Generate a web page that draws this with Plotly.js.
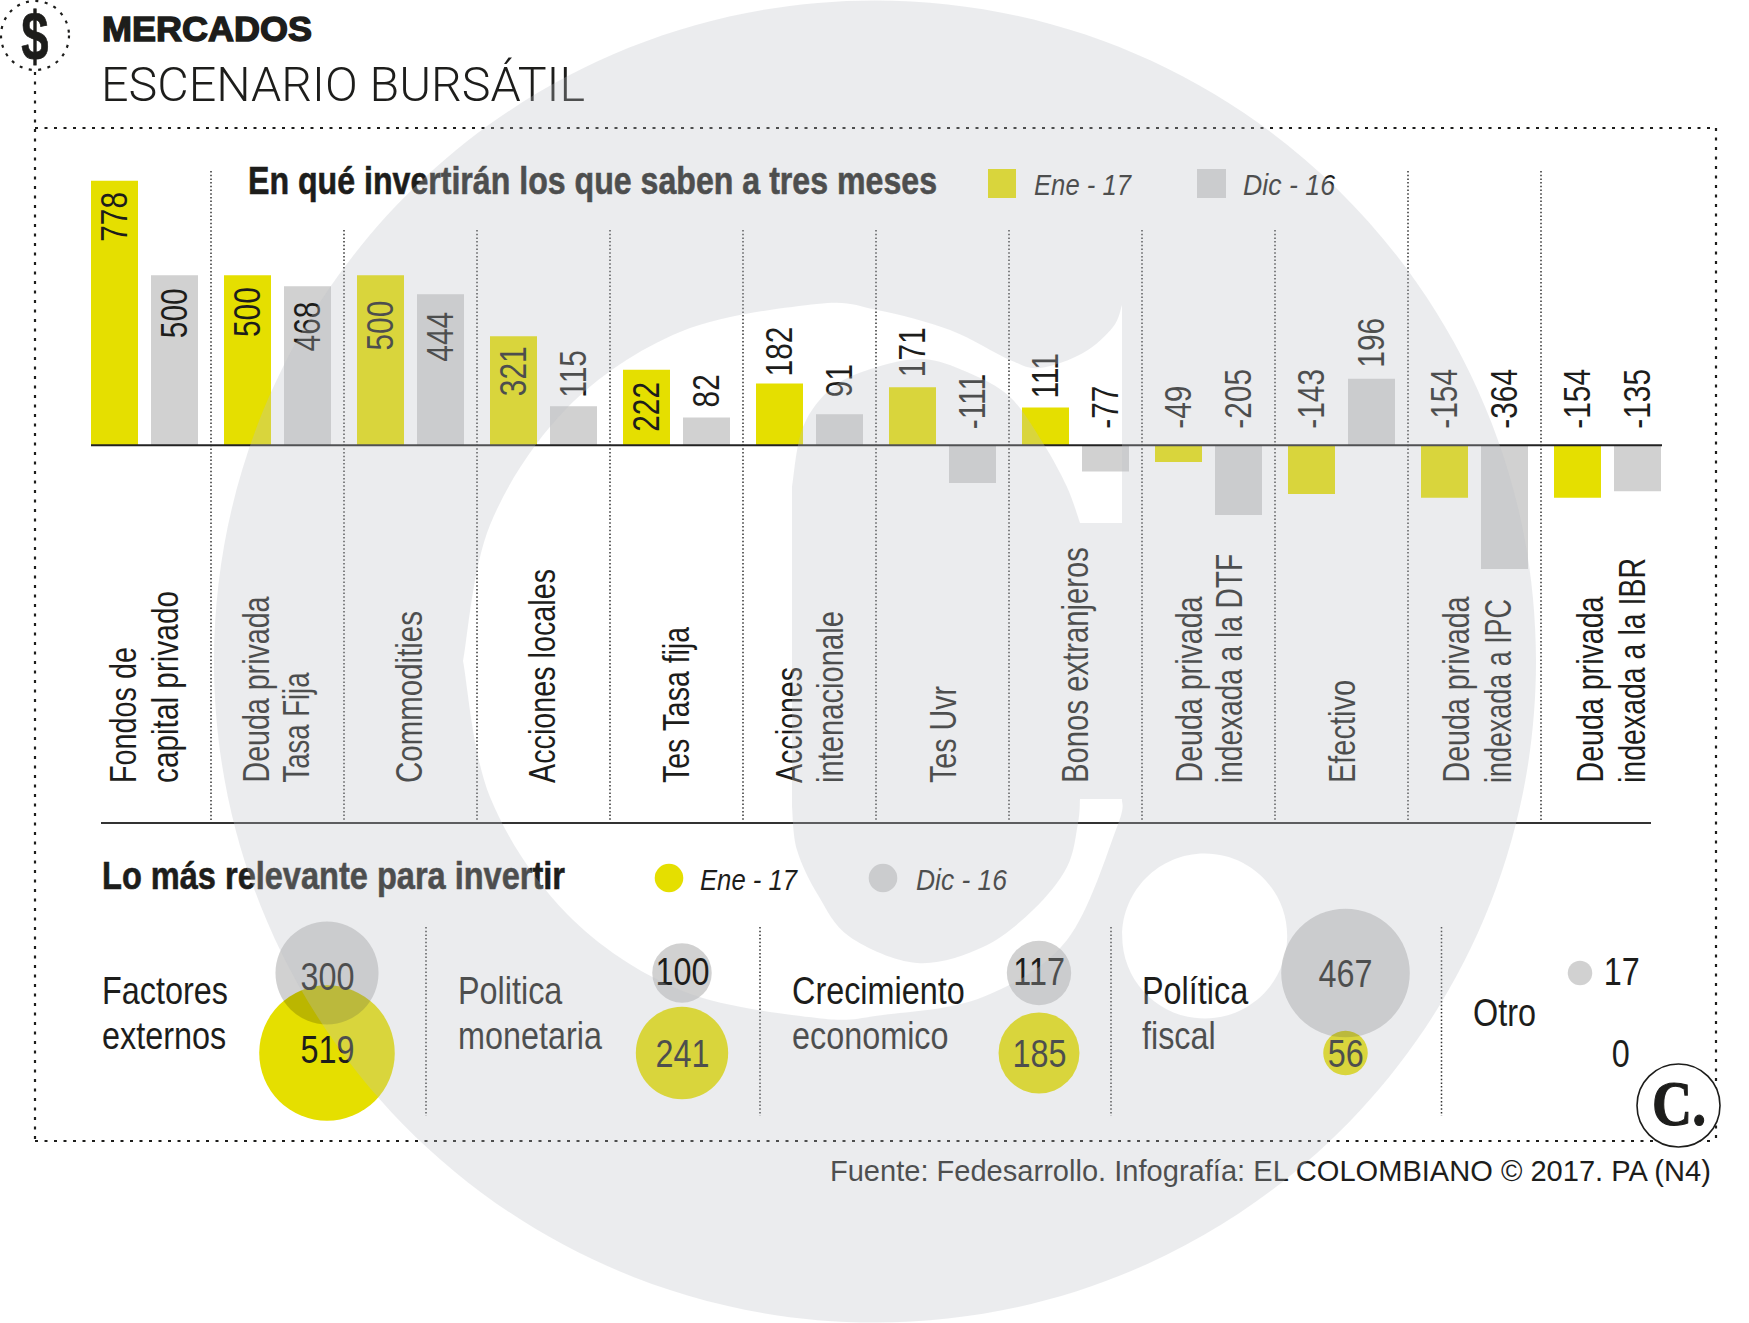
<!DOCTYPE html>
<html><head><meta charset="utf-8">
<script src="https://cdn.plot.ly/plotly-3.0.1.min.js"></script>
<style>html,body{margin:0;padding:0;background:#fff}#c{width:1749px;height:1323px}</style>
</head><body><div id="c"></div>
<script>
// ---- data ----
const categories = ["Fondos de capital privado","Deuda privada Tasa Fija","Commodities","Acciones locales","Tes Tasa fija","Acciones intenacionale","Tes Uvr","Bonos extranjeros","Deuda privada indexada a la DTF","Efectivo","Deuda privada indexada a IPC","Deuda privada indexada a la IBR"];
const ene17 = [778,500,500,321,222,182,171,111,-49,-143,-154,-154];
const dic16 = [500,468,444,115,82,91,-111,-77,-205,196,-364,-135];
const categoryLines = [["Fondos de","capital privado"],["Deuda privada","Tasa Fija"],["Commodities"],["Acciones locales"],["Tes Tasa fija"],["Acciones","intenacionale"],["Tes Uvr"],["Bonos extranjeros"],["Deuda privada","indexada a la DTF"],["Efectivo"],["Deuda privada","indexada a IPC"],["Deuda privada","indexada a la IBR"]];
const bubbleNames = [["Factores","externos"],["Politica","monetaria"],["Crecimiento","economico"],["Política","fiscal"],["Otro"]];
const bubbleEne = [519,241,185,56,0];
const bubbleDic = [300,100,117,467,17];

// ---- layout helpers (pixel positions, styles) ----
const catLineX = [[123,165],[256,296],[409],[542],[676],[789,830],[943],[1075],[1189,1229],[1342],[1456,1498],[1590,1632]];
const catLineLen = [[136,192],[186,110],[172],[214],[156],[116,172],[97],[236],[186,229],[103],[186,184],[186,225]];
const eneGap = [10.7,11.5,25,9.7,11.7,5.5,8.5,8,15,15,15,15];
const dicGap = [12.6,15,17,7.5,8.5,15.5,15,15,15,9.5,15,15];
const eneInside = [1,1,1,1,1,0,0,0,0,0,0,0];
const dicInside = [1,1,1,0,0,0,0,0,0,0,0,0];
const bubbleX = [327,682,1039,1345.5,1580];
const DIC_Y = 973, ENE_Y = 1053;
const dicLabelY = [976,971,971.5,973,971.5];
const eneLabelY = [1049.5,1053,1053.5,1053,1053];
const nameX = [101,457,791,1141,1472];
const YEL = '#E5DF00', GRY = '#D1D1D1', INK = '#1D1D1B';
const SANS = '"Liberation Sans",sans-serif';
const PXU = 0.34, BASE = 445.3;
const NARROWING = 0.83;

const ann = [], fit = [];
function txt(text,x,y,o={}){
  ann.push({text,x,y,xref:'x2',yref:'y2',showarrow:false,xanchor:o.xa||'center',yanchor:o.ya||'middle',
    textangle:o.angle||0,borderpad:0,
    font:{family:o.family||SANS,size:o.size||36,color:o.color||INK,weight:o.weight||'normal',style:o.style||'normal'}});
  fit.push({s:o.s,w:o.w,mode:o.mode||(o.xa==='left'?'start':o.xa==='right'?'end':'mid'),stroke:o.stroke});
}
function barLabels(vals,gaps,inside,shift){
  vals.forEach((v,i)=>{
    const common={text:String(v),x:categories[i],xref:'x',yref:'y',xshift:shift,showarrow:false,textangle:-90,borderpad:0,
      font:{family:SANS,size:36,color:INK}};
    if(inside[i]) ann.push(Object.assign(common,{y:v,yanchor:'top',yshift:-gaps[i]}));
    else ann.push(Object.assign(common,{y:Math.max(v,0),yanchor:'bottom',yshift:gaps[i]}));
    fit.push({s:NARROWING,mode:inside[i]?'end':'start'});
  });
}
barLabels(ene17,eneGap,eneInside,-30);
barLabels(dic16,dicGap,dicInside,30);
categoryLines.forEach((ls,i)=>ls.forEach((l,j)=>txt(l,catLineX[i][j],784,{angle:-90,ya:'bottom',w:catLineLen[i][j],mode:'start'})));
txt('MERCADOS',101,28,{size:35,weight:'bold',xa:'left',w:210,stroke:1.4});
txt('ESCENARIO BURSÁTIL',100,84,{family:'Roboto',size:49,weight:300,xa:'left',w:484});
txt('$',35,36,{size:68,weight:'bold',s:0.72,stroke:0.8});
txt('En qué invertirán los que saben a tres meses',247,181,{size:38,weight:'bold',xa:'left',w:689,stroke:0.6});
txt('Lo más relevante para invertir',101,876,{size:38,weight:'bold',xa:'left',w:463,stroke:0.6});
txt('Ene - 17',1033,184,{size:30,style:'italic',xa:'left',w:97});
txt('Dic - 16',1242,184,{size:30,style:'italic',xa:'left',w:92});
txt('Ene - 17',699,879,{size:30,style:'italic',xa:'left',w:97});
txt('Dic - 16',915,879,{size:30,style:'italic',xa:'left',w:91});
bubbleNames.forEach((ls,i)=>{
  if(ls.length==2){txt(ls[0],nameX[i],990,{size:39,xa:'left',s:NARROWING});txt(ls[1],nameX[i],1035,{size:39,xa:'left',s:NARROWING});}
  else txt(ls[0],nameX[i],1012,{size:39,xa:'left',s:NARROWING});
});
bubbleX.forEach((x,i)=>{
  const lx = i==4 ? 1621 : x;
  txt(String(bubbleDic[i]),lx,dicLabelY[i],{size:39,s:NARROWING});
  txt(String(bubbleEne[i]),lx,eneLabelY[i],{size:39,s:NARROWING});
});
txt('Fuente: Fedesarrollo. Infografía: EL COLOMBIANO © 2017. PA (N4)',1712,1171,{size:29,xa:'right',w:881});
txt('C.',1679,1103,{family:'"Liberation Serif",serif',size:64,weight:'bold',w:54,stroke:1.2});

// ---- shapes ----
const k=0.5523;
function circ(cx,cy,r){const c=k*r;return `M${cx-r},${cy}C${cx-r},${cy-c} ${cx-c},${cy-r} ${cx},${cy-r}C${cx+c},${cy-r} ${cx+r},${cy-c} ${cx+r},${cy}C${cx+r},${cy+c} ${cx+c},${cy+r} ${cx},${cy+r}C${cx-c},${cy+r} ${cx-r},${cy+c} ${cx-r},${cy}Z`;}
function smooth(p){let s='';for(let i=0;i<p.length-1;i++){const a=p[Math.max(i-1,0)],b=p[i],c=p[i+1],d=p[Math.min(i+2,p.length-1)];
  s+=`C${b[0]+(c[0]-a[0])/6},${b[1]+(c[1]-a[1])/6} ${c[0]-(d[0]-b[0])/6},${c[1]-(d[1]-b[1])/6} ${c[0]},${c[1]}`;}return s;}
const outerTop=[[463,661],[490,525],[567,408],[680,332],[817,304],[877,310],[950,330],[1010,360],[1040,368],[1083,353],[1113,327],[1122,305]];
const counterTop=[[1080,523],[1067,487],[1043,443],[1010,397],[967,372],[923,359],[877,367],[833,387],[803,427],[792,487]];
const counterBot=[[792,807],[797,850],[818,895],[850,937],[917,963],[983,947],[1033,910],[1067,867],[1078,823],[1080,799]];
const outerBot=[[1122,799],[1117,827],[1067,940],[983,997],[883,1015],[817,1018],[680,990],[567,914],[490,797],[463,661]];
const logoPath = circ(875,661.5,661) +
  'M463,661'+smooth(outerTop)+'L1122,523L1080,523'+smooth(counterTop)+'L792,807'+smooth(counterBot)+'L1122,799'+smooth(outerBot)+'Z' +
  circ(1204.7,936,82.5);

const shapes=[];
const dotted={color:'#333',width:1.5,dash:'1.5px,2.2px'};
const frame={color:'#1D1D1B',width:2.2,dash:'3px,6.5px'};
function ln(x0,y0,x1,y1,line){shapes.push({type:'line',xref:'x2',yref:'y2',x0,y0,x1,y1,line,layer:'below'});}
ln(35,72,35,1141,frame); ln(35,128,1716,128,frame); ln(1716,128,1716,1141,frame); ln(35,1141,1716,1141,frame);
shapes.push({type:'circle',xref:'x2',yref:'y2',x0:1,y0:1,x1:69,y1:70,line:frame,layer:'below'});
shapes.push({type:'circle',xref:'x2',yref:'y2',x0:1637,y0:1064,x1:1720,y1:1147,fillcolor:'#fff',line:{color:INK,width:1.6},layer:'below'});
categories.slice(0,-1).forEach((_,i)=>{
  const top=(i==0||i>=9)?171:230, x=144.5+133*(i+0.5);
  ln(x,top,x,822,dotted);
});
[426,760,1111,1441.5].forEach(x=>ln(x,927,x,1116,dotted));
ln(101,823,1651,823,{color:'#333',width:2});
[[988,1016,YEL],[1197,1226,GRY]].forEach(s=>shapes.push({type:'rect',xref:'x2',yref:'y2',x0:s[0],x1:s[1],y0:169,y1:198,fillcolor:s[2],line:{width:0},layer:'below'}));
[[669,YEL],[883,GRY]].forEach(s=>shapes.push({type:'circle',xref:'x2',yref:'y2',x0:s[0]-14.3,x1:s[0]+14.3,y0:863.7,y1:892.3,fillcolor:s[1],line:{width:0},layer:'below'}));
shapes.push({type:'line',xref:'x2',yref:'y',x0:91,x1:1662,y0:0,y1:0,line:{color:'#222',width:2},layer:'above'});
shapes.push({type:'path',xref:'x2',yref:'y2',path:logoPath,fillcolor:'rgba(188,192,198,0.3)',line:{width:0},layer:'above',fillrule:'evenodd'});

// ---- traces ----
const barBase={type:'bar',x:categories,xaxis:'x',yaxis:'y',hoverinfo:'skip',cliponaxis:false};
const bubbleBase={type:'scatter',mode:'markers',xaxis:'x2',yaxis:'y2',x:bubbleX,hoverinfo:'skip'};
const traces=[
 Object.assign({},barBase,{name:'Ene - 17',y:ene17,marker:{color:YEL,line:{width:0}}}),
 Object.assign({},barBase,{name:'Dic - 16',y:dic16,marker:{color:GRY,line:{width:0}}}),
 Object.assign({},bubbleBase,{name:'Ene - 17',y:bubbleEne.map(_=>ENE_Y),marker:{size:bubbleEne,sizemode:'area',sizeref:0.0565,color:YEL,line:{width:0},opacity:1}}),
 Object.assign({},bubbleBase,{name:'Dic - 16',y:bubbleDic.map(_=>DIC_Y),marker:{size:bubbleDic,sizemode:'area',sizeref:0.0565,color:'rgba(0,0,0,0.18)',line:{width:0},opacity:1}})
];
const layout={width:1749,height:1323,margin:{l:0,r:0,t:0,b:0},paper_bgcolor:'#fff',plot_bgcolor:'rgba(0,0,0,0)',showlegend:false,
 barmode:'group',bargap:0.0977,bargroupgap:0.2167,hovermode:false,
 xaxis:{type:'category',range:[(0-144.5)/133,(1749-144.5)/133],visible:false,domain:[0,1],anchor:'y',categoryorder:'array',categoryarray:categories,fixedrange:true},
 yaxis:{range:[(BASE-1323)/PXU,BASE/PXU],visible:false,domain:[0,1],anchor:'x',fixedrange:true,zeroline:false},
 xaxis2:{range:[0,1749],visible:false,overlaying:'x',anchor:'y2',fixedrange:true},
 yaxis2:{range:[1323,0],visible:false,overlaying:'y',anchor:'x2',fixedrange:true},
 shapes,annotations:ann};
Plotly.newPlot('c',traces,layout,{displayModeBar:false,staticPlot:true}).then(gd=>{
  // keep text under the translucent logo wash, as in the printed graphic
  const above=gd.querySelector('.layer-above'), info=gd.querySelector('.infolayer');
  if(above&&info) above.parentNode.insertBefore(info,above);
  // condense text: no condensed face is installed
  gd.querySelectorAll('.annotation').forEach(g=>{
    const f=fit[+g.getAttribute('data-index')]; if(!f) return;
    const t=g.querySelector('.annotation-text'); if(!t) return;
    const L=t.getComputedTextLength();
    const W=f.w||(f.s?L*f.s:L);
    t.setAttribute('textLength',W); t.setAttribute('lengthAdjust','spacingAndGlyphs');
    const d=(L-W)/2, x=parseFloat(t.getAttribute('x'))||0;
    if(f.mode==='start') t.setAttribute('x',x-d);
    if(f.mode==='end') t.setAttribute('x',x+d);
    if(f.stroke){t.style.stroke=INK;t.style.strokeWidth=f.stroke+'px';}
  });
});
</script></body></html>
